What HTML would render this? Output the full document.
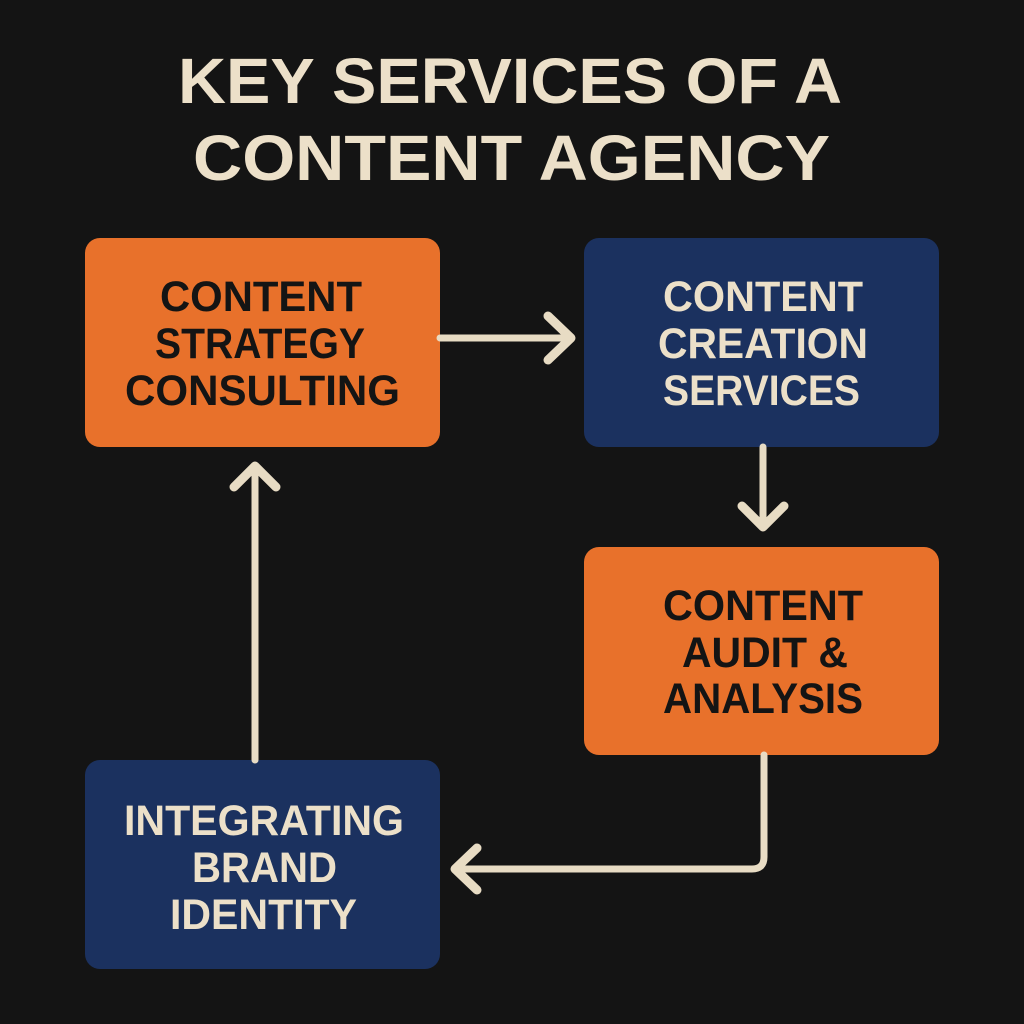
<!DOCTYPE html>
<html><head><meta charset="utf-8"><style>
html,body{margin:0;padding:0;background:#141414;}
svg{display:block}
text{font-family:"Liberation Sans",sans-serif;font-weight:bold;}
</style></head><body>
<svg width="1024" height="1024" viewBox="0 0 1024 1024" xmlns="http://www.w3.org/2000/svg">
<rect width="1024" height="1024" fill="#141414"/>
<g fill="#ece0c9" font-size="64">
<text x="178" y="103" textLength="664" lengthAdjust="spacingAndGlyphs">KEY SERVICES OF A</text>
<text x="193" y="180" textLength="637" lengthAdjust="spacingAndGlyphs">CONTENT AGENCY</text>
</g>
<rect x="85" y="238" width="355" height="209" rx="15" fill="#e8712b"/>
<rect x="584" y="238" width="355" height="209" rx="15" fill="#1b315f"/>
<rect x="584" y="547" width="355" height="208" rx="15" fill="#e8712b"/>
<rect x="85" y="760" width="355" height="209" rx="15" fill="#1b315f"/>
<g font-size="43" fill="#141414">
<text x="160" y="311" textLength="202" lengthAdjust="spacingAndGlyphs">CONTENT</text>
<text x="155" y="358" textLength="210" lengthAdjust="spacingAndGlyphs">STRATEGY</text>
<text x="125" y="405" textLength="275" lengthAdjust="spacingAndGlyphs">CONSULTING</text>
<text x="663" y="620" textLength="200" lengthAdjust="spacingAndGlyphs">CONTENT</text>
<text x="682" y="667" textLength="166" lengthAdjust="spacingAndGlyphs">AUDIT &amp;</text>
<text x="663" y="713" textLength="200" lengthAdjust="spacingAndGlyphs">ANALYSIS</text>
</g>
<g font-size="43" fill="#ece0c9">
<text x="663" y="311" textLength="200" lengthAdjust="spacingAndGlyphs">CONTENT</text>
<text x="658" y="358" textLength="210" lengthAdjust="spacingAndGlyphs">CREATION</text>
<text x="663" y="405" textLength="197" lengthAdjust="spacingAndGlyphs">SERVICES</text>
<text x="124" y="835" textLength="280" lengthAdjust="spacingAndGlyphs">INTEGRATING</text>
<text x="192" y="882" textLength="145" lengthAdjust="spacingAndGlyphs">BRAND</text>
<text x="170" y="929" textLength="187" lengthAdjust="spacingAndGlyphs">IDENTITY</text>
</g>
<g stroke="#e8dcc4" fill="none" stroke-linecap="round" stroke-linejoin="round">
<line x1="440" y1="338" x2="568" y2="338" stroke-width="7"/>
<polyline points="548,316 571,338 548,360" stroke-width="9"/>
<line x1="763" y1="447" x2="763" y2="524" stroke-width="7"/>
<polyline points="742,506 763,527 784,506" stroke-width="9"/>
<path d="M764 755 V857 Q764 869 752 869 H458" stroke-width="7"/>
<polyline points="477,848 455,869 477,890" stroke-width="9"/>
<line x1="255" y1="760" x2="255" y2="468" stroke-width="7"/>
<polyline points="234,487 255,466 276,487" stroke-width="9"/>
</g>
</svg>
</body></html>
